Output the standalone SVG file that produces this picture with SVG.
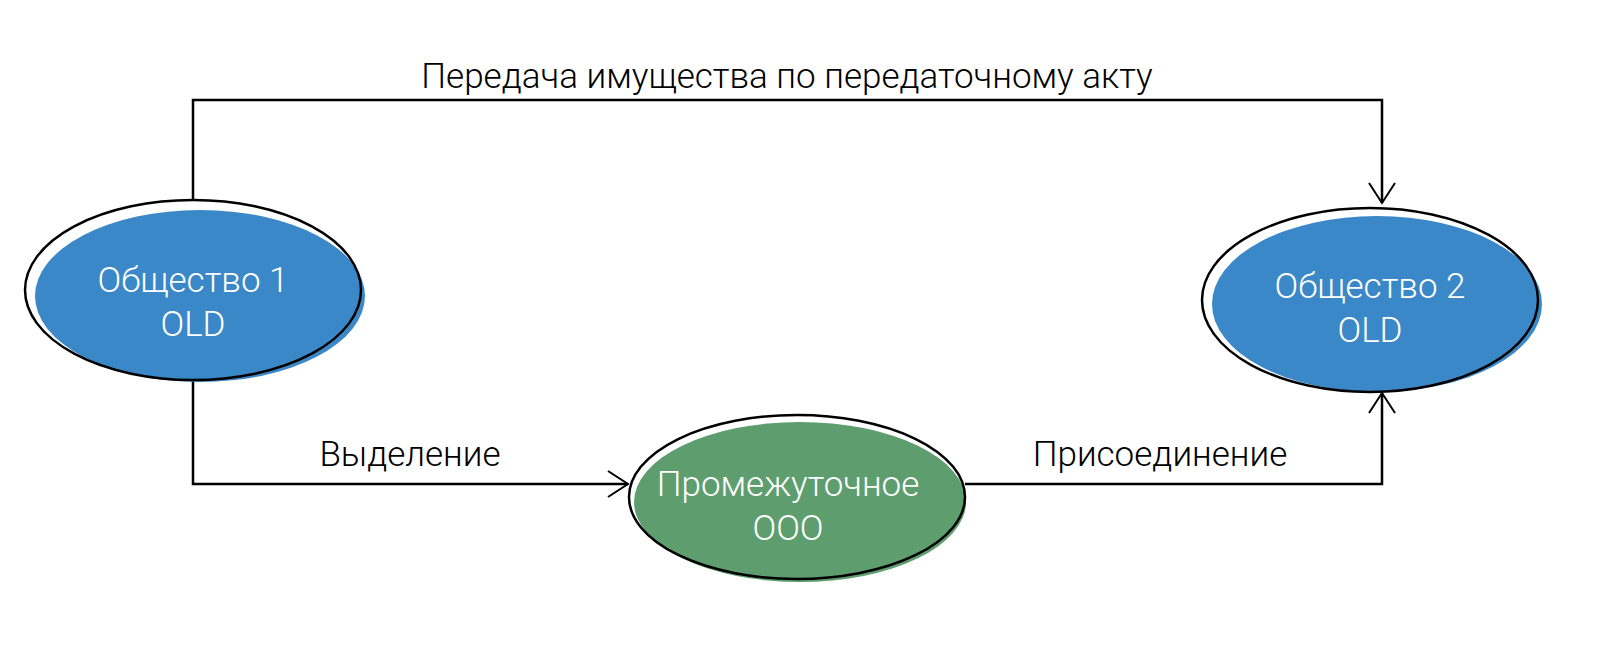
<svg xmlns="http://www.w3.org/2000/svg" width="1600" height="645" viewBox="0 0 1600 645">
<defs>
<marker id="a" markerWidth="24" markerHeight="30" refX="22" refY="15" orient="auto" markerUnits="userSpaceOnUse"><path d="M2,2 L22,15 L2,28" fill="none" stroke="#000" stroke-width="2"/></marker>
</defs>
<style>
text{font-family:Roboto,"Liberation Sans",Arial,sans-serif;font-size:35px;font-weight:300;text-anchor:middle}
.n{fill:#fff}
.o{fill:none;stroke:#000;stroke-width:2.5}
.c{fill:none;stroke:#000;stroke-width:2.5}
</style>
<rect width="1600" height="645" fill="#fff"/>
<g id="connectors">
<path class="c" d="M193,200 V100 H1382 V203" marker-end="url(#a)"/>
<path class="c" d="M193,380 V484 H628" marker-end="url(#a)"/>
<path class="c" d="M965,484 H1382 V393" marker-end="url(#a)"/>
<text x="787" y="88">Передача имущества по передаточному акту</text>
<text x="410" y="466">Выделение</text>
<text x="1160" y="466">Присоединение</text>
</g>
<g id="n1">
<ellipse cx="200" cy="296" rx="165" ry="86" fill="#3b88c8"/>
<ellipse class="o" cx="193" cy="290" rx="168" ry="90"/>
<text class="n" x="193" y="292">Общество 1</text>
<text class="n" x="193" y="336">OLD</text>
</g>
<g id="n2">
<ellipse cx="1377" cy="304" rx="165" ry="88" fill="#3b88c8"/>
<ellipse class="o" cx="1370" cy="300" rx="168" ry="92"/>
<text class="n" x="1370" y="298">Общество 2</text>
<text class="n" x="1370" y="342">OLD</text>
</g>
<g id="n3">
<ellipse cx="800" cy="502" rx="166" ry="80" fill="#5e9e6e"/>
<ellipse class="o" cx="797" cy="497" rx="168" ry="82"/>
<text class="n" x="788" y="496">Промежуточное</text>
<text class="n" x="788" y="540">ООО</text>
</g>
</svg>
